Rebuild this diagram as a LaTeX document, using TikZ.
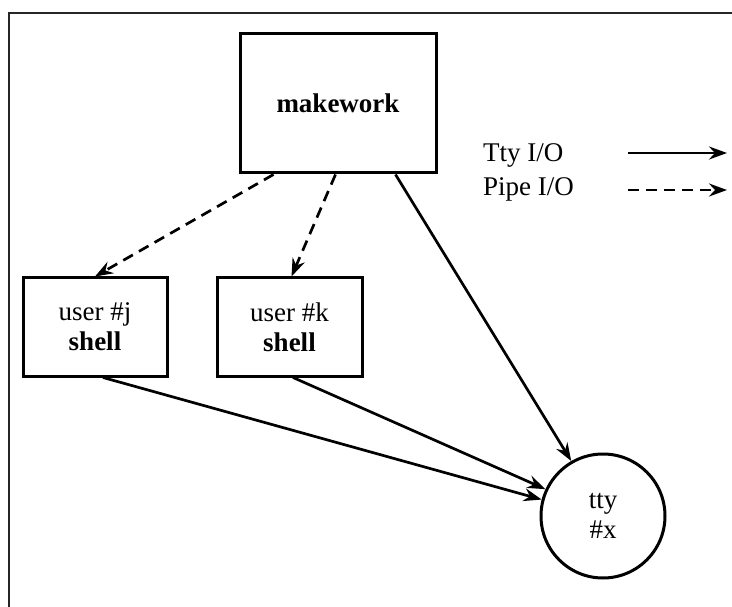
\documentclass[tikz,border=0pt]{standalone}
\usepackage{fontspec}
\setmainfont{Liberation Serif}
\usetikzlibrary{arrows.meta}

\tikzset{
  procbox/.style={draw, line width=3pt, rectangle, align=center,
    inner sep=0pt, font=\fontsize{27}{30}\selectfont},
  ttynode/.style={draw, line width=3pt, circle, minimum size=124pt,
    inner sep=0pt, align=center, font=\fontsize{27}{30}\selectfont},
  legendtext/.style={anchor=west, inner sep=0pt, font=\fontsize{27}{30}\selectfont},
  ttyio/.style={line width=2.7pt,
    -{Stealth[length=18pt,width=13pt,inset=6pt]}},
  pipeio/.style={line width=2.7pt, dash pattern=on 11pt off 7pt,
    -{Stealth[length=18pt,width=13pt,inset=6pt]}},
  frame/.style={line width=1.5pt, black!85}
}

\begin{document}
\begin{tikzpicture}[x=1pt, y=-1pt]
  \useasboundingbox (0,0) rectangle (732,607);

  % outer frame (top and left edges)
  \draw[frame] (9,607) -- (9,13) -- (732,13);

  % processes
  \node[procbox, minimum width=196pt, minimum height=139pt]
    (mw) at (338,103.5) {\textbf{makework}};
  \node[procbox, minimum width=144pt, minimum height=98pt]
    (uj) at (95,327) {user \#j\\\textbf{shell}};
  \node[procbox, minimum width=145pt, minimum height=98pt]
    (uk) at (289.5,327) {user \#k\\\textbf{shell}};
  \node[ttynode] (tty) at (603,516) {tty\\\#x};

  % pipe connections from makework to the shells
  \draw[pipeio] ([xshift=35pt]mw.south west) -- (uj.north);
  \draw[pipeio] ([xshift=97pt]mw.south west) -- ([xshift=2pt]uk.north);

  % terminal connections
  \draw[ttyio] ([xshift=157pt]mw.south west) -- (tty.120);
  \draw[ttyio] ([xshift=3.5pt]uk.south) -- (tty.155);
  \draw[ttyio] ([xshift=8pt]uj.south) -- (tty.165);

  % legend
  \node[legendtext] (lt) at (483,155) {Tty I/O};
  \node[legendtext] (lp) at (483,189) {Pipe I/O};
  \coordinate (lts) at (628,153);
  \coordinate (lte) at (727,153);
  \coordinate (lps) at (628,190);
  \coordinate (lpe) at (727,190);
  \draw[ttyio] (lts) -- (lte);
  \draw[pipeio] (lps) -- (lpe);
\end{tikzpicture}
\end{document}
